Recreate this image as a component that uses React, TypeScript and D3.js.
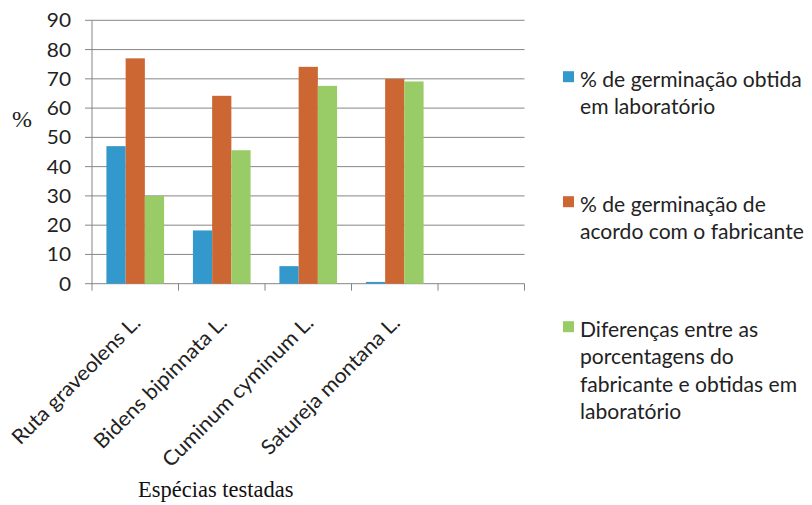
import React from "react";
import * as d3 from "d3";

const categories = ["Ruta graveolens L.", "Bidens bipinnata L.", "Cuminum cyminum L.", "Satureja montana L.", ""];
const labValues: (number | null)[] = [47, 18.2, 6, 0.6, null];
const fabricanteValues: (number | null)[] = [77, 64.2, 74.1, 70, null];
const diferencaValues: (number | null)[] = [30, 45.6, 67.6, 69.1, null];
const seriesNames = ["lab", "fab", "dif"];
const seriesColors = ["#3399CC", "#CC6633", "#99CC66"];
const legendLines = [
  ["% de germinação obtida", "em laboratório"],
  ["% de germinação de", "acordo com o fabricante"],
  ["Diferenças entre as", "porcentagens do", "fabricante e obtidas em", "laboratório"],
];
const yTicks = [0, 10, 20, 30, 40, 50, 60, 70, 80, 90];

const sans = "Lato, 'Open Sans', sans-serif";
const serif = "'Liberation Serif', 'DejaVu Serif', serif";

export default function App() {
  const left = 92, right = 524.5, top = 20.3, bottom = 283.7;
  const x = d3.scaleBand<string>().domain(categories.map((c, i) => String(i))).range([left, right]).padding(0);
  const xs = d3.scaleBand<string>().domain(seriesNames).range([0, x.bandwidth()]).paddingInner(0).paddingOuter(0.75);
  const y = d3.scaleLinear().domain([0, 90]).range([bottom, top]);
  const series = [labValues, fabricanteValues, diferencaValues];
  const boundaries = categories.map((_, i) => x(String(i))!).concat([right]);

  return (
    <svg width={812} height={505} style={{ position: "absolute", left: 0, top: 0, background: "#fff" }}>
      {yTicks.map((t) => (
        <g key={t}>
          <line x1={85} x2={right} y1={y(t)} y2={y(t)} stroke="#868686" strokeWidth={1} />
          <text transform={`translate(71,${y(t) + 7}) scale(1.07,1)`} textAnchor="end" fontFamily={sans} fontSize={19.5} fill="#222">{t}</text>
        </g>
      ))}
      <line x1={left} x2={left} y1={top} y2={bottom} stroke="#868686" />
      {boundaries.map((b, i) => (
        <line key={i} x1={b} x2={b} y1={bottom} y2={bottom + 7} stroke="#868686" />
      ))}
      {series.map((vals, si) =>
        vals.map((v, ci) =>
          v == null ? null : (
            <rect key={`${si}-${ci}`} x={x(String(ci))! + xs(seriesNames[si])!} width={xs.bandwidth()}
              y={y(v)} height={bottom - y(v)} fill={seriesColors[si]} />
          )
        )
      )}
      {categories.map((c, i) =>
        c ? (
          <text key={c} transform={`translate(${x(String(i))! + x.bandwidth() / 2 + 6.5},${bottom + 40.5}) rotate(-45) scale(1.05,1)`}
            textAnchor="end" fontFamily={sans} fontSize={20.5} fill="#222">{c}</text>
        ) : null
      )}
      <text x={12} y={127} fontFamily={serif} fontSize={24} fill="#222">%</text>
      <text x={138} y={497} fontFamily={serif} fontSize={22.5} fill="#111">Espécias testadas</text>
      {legendLines.map((lines, li) => {
        const base = 86.7 + li * 125;
        return (
          <g key={li}>
            <rect x={563} y={base - 15.5} width={11} height={11} fill={seriesColors[li]} />
            {lines.map((ln, k) => (
              <text key={k} transform={`translate(580,${base + k * 27.5}) scale(1.04,1)`} fontFamily={sans} fontSize={20.3} fill="#222">{ln}</text>
            ))}
          </g>
        );
      })}
    </svg>
  );
}
